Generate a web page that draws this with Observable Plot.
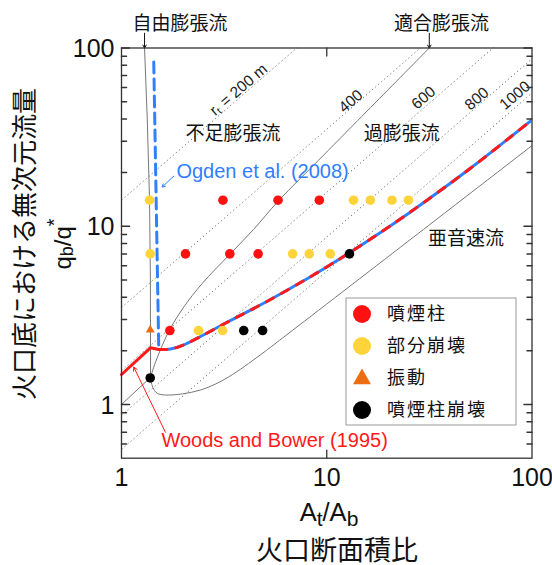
<!DOCTYPE html>
<html><head><meta charset="utf-8">
<script src="https://cdn.jsdelivr.net/npm/d3@7"></script>
<script src="https://cdn.jsdelivr.net/npm/@observablehq/plot@0.6"></script>
<style>
body{margin:0;background:#fff;}
#chart{width:552px;height:565px;}
</style></head><body><div id="chart"></div>
<script>
const FONT = "'Liberation Sans', Arial, 'Noto Sans CJK JP', sans-serif";

// ---- observations ----
const eruptionX = [3.12, 5.79, 9.2, 2.05, 3.37, 4.63, 1.72];
const eruptionY = [14, 14, 14, 7, 7, 7, 2.6];
const partialX = [1.37, 13.5, 16.3, 20.8, 25.0, 1.38, 6.82, 8.22, 10.4, 2.37, 3.11];
const partialY = [14, 14, 14, 14, 14, 7, 7, 7, 7, 2.6, 2.6];
const oscillationX = [1.38];
const oscillationY = [2.62];
const collapseX = [12.9, 3.94, 4.87, 1.38];
const collapseY = [7, 2.6, 2.6, 1.41];

// ---- regime boundary curves ----
const freeX = [1.295, 1.335, 1.37, 1.383, 1.385];
const freeY = [100, 40, 14, 5, 1.42];
const matchedLowX = [1, 1.385];
const matchedLowY = [1, 1.42];
const matchedX = [1.385, 1.464, 1.699, 2.01, 2.47, 3.37, 4.4, 5.79, 9.83, 31.6];
const matchedY = [1.42, 1.728, 2.57, 3.52, 4.77, 6.96, 9.6, 13.8, 25.6, 100];
const subsonicX = [1.384, 1.42, 1.492, 1.638, 1.983, 2.426, 2.871, 3.474, 4.157, 5.03, 6.086, 22.88, 100];
const subsonicY = [1.417, 1.25, 1.157, 1.131, 1.148, 1.206, 1.303, 1.473, 1.698, 1.995, 2.36, 7.636, 28.35];

// Woods and Bower (1995) / Ogden et al. (2008)
const woodsX = [1, 1.384, 1.519];
const woodsY = [1.474, 2.08, 2.035];
const modelX = [1.519, 1.733, 1.983, 2.373, 3.321, 5.03, 7.449, 9.86, 12.95, 18.28, 25.59, 50.15, 100];
const modelY = [2.035, 2.048, 2.148, 2.375, 2.921, 3.748, 4.833, 5.859, 7.12, 9.23, 12.03, 21.15, 39.53];
const ogdenX = [1.436, 1.519];
const ogdenY = [83.5, 2.035];

// r_t lines (value at A_t/A_b = 1 and at 100)
const rtLabels = ["rₜ = 200 m", "400", "600", "800", "1000"];
const rtStartY = [14, 3.5, 1.55, 0.87, 0.56];
const rtEndY = [1400, 350, 155, 87, 56];
const rtLabelX = [3.715, 13.1, 29.6, 53.8, 82.6];
const rtLabelY = [58.4, 50.3, 52.6, 51.9, 54.2];

// regime labels
const regimeText = ["不足膨張流", "過膨張流", "亜音速流"];
const regimeX = [3.49, 23.2, 47.7];
const regimeY = [32.9, 32.9, 8.45];
const topText = ["自由膨張流", "適合膨張流"];
const topX = [1.93, 36.2];
const topArrowX = [1.295, 31.6];

// ticks
const xTickLabels = [1, 10, 100];
const yTickLabels = [1, 10, 100];
const yMinor = [0.6, 0.7, 0.8, 0.9, 2, 3, 4, 5, 6, 7, 8, 9, 20, 30, 40, 50, 60, 70, 80, 90];

// legend
const legendNames = ["噴煙柱", "部分崩壊", "振動", "噴煙柱崩壊"];
const legendColors = ["#ff1111", "#ffd43a", "#ec6d14", "#000000"];
const legendShapes = ["circle", "circle", "triangle", "circle"];

const RED = "#ff1a1a", BLUE = "#2f80ff", GRAY = "#777";
const idx = a => a.map((_, i) => i);
const tickShape = {draw(ctx, l) { ctx.moveTo(0, 0); ctx.lineTo(0, -l); }};

const plot = Plot.plot({
  width: 552, height: 565,
  marginLeft: 121, marginRight: 20.5, marginTop: 47.5, marginBottom: 107.3,
  x: {type: "log", domain: [1, 100], axis: null},
  y: {type: "log", domain: [0.5, 100], axis: null},
  style: {fontFamily: FONT, background: "white", overflow: "visible"},
  marks: [
    // r_t dotted lines
    Plot.link(idx(rtStartY), {x1: () => 1, y1: i => rtStartY[i], x2: () => 100, y2: i => rtEndY[i],
      stroke: "#777", strokeWidth: 1, strokeDasharray: "1.3 2.7", clip: true}),
    Plot.text(idx(rtLabels), {x: i => rtLabelX[i], y: i => rtLabelY[i], text: i => rtLabels[i],
      rotate: -40.6, fontSize: 15.5, fill: "#222"}),
    // regime boundaries
    Plot.line(idx(freeX), {x: i => freeX[i], y: i => freeY[i], stroke: GRAY, strokeWidth: 1}),
    Plot.line(idx(matchedLowX), {x: i => matchedLowX[i], y: i => matchedLowY[i], stroke: GRAY, strokeWidth: 1}),
    Plot.line(idx(matchedX), {x: i => matchedX[i], y: i => matchedY[i], stroke: GRAY, strokeWidth: 1, curve: "catmull-rom", clip: true}),
    Plot.line(idx(subsonicX), {x: i => subsonicX[i], y: i => subsonicY[i], stroke: GRAY, strokeWidth: 1, curve: "catmull-rom", clip: true}),
    // models
    Plot.line(idx(ogdenX), {x: i => ogdenX[i], y: i => ogdenY[i], stroke: BLUE, strokeWidth: 3, strokeDasharray: "11 6"}),
    Plot.line(idx(modelX), {x: i => modelX[i], y: i => modelY[i], stroke: BLUE, strokeWidth: 3, curve: "catmull-rom", clip: true}),
    Plot.line(idx(modelX), {x: i => modelX[i], y: i => modelY[i], stroke: RED, strokeWidth: 3, curve: "catmull-rom", strokeDasharray: "8 9", clip: true}),
    Plot.line(idx(woodsX), {x: i => woodsX[i], y: i => woodsY[i], stroke: RED, strokeWidth: 3}),
    // annotations
    Plot.text(["Ogden et al. (2008)"], {x: () => 1.852, y: () => 20.2, text: d => d, textAnchor: "start", fontSize: 20, fill: BLUE}),
    Plot.arrow([0], {x1: () => 1.797, y1: () => 19.1, x2: () => 1.578, y2: () => 16.6, stroke: BLUE, strokeWidth: 1, headLength: 5}),
    Plot.text(["Woods and Bower (1995)"], {x: () => 1.565, y: () => 0.628, text: d => d, textAnchor: "start", fontSize: 20, fill: "#ff1a1a"}),
    Plot.arrow([0], {x1: () => 1.637, y1: () => 0.699, x2: () => 1.148, y2: () => 1.62, stroke: RED, strokeWidth: 1, headLength: 6}),
    Plot.text(idx(regimeText), {x: i => regimeX[i], y: i => regimeY[i], text: i => regimeText[i], fontSize: 19, fill: "#111", letterSpacing: 1}),
    Plot.text(idx(topText), {x: i => topX[i], y: () => 137, text: i => topText[i], fontSize: 19, fill: "#111", letterSpacing: 1}),
    Plot.arrow(idx(topArrowX), {x1: i => topArrowX[i], y1: () => 121, x2: i => topArrowX[i], y2: () => 100, stroke: "#111", strokeWidth: 1, headLength: 5}),
    // observations
    Plot.dot(idx(eruptionX), {x: i => eruptionX[i], y: i => eruptionY[i], r: 4.8, fill: legendColors[0]}),
    Plot.dot(idx(partialX), {x: i => partialX[i], y: i => partialY[i], r: 4.8, fill: legendColors[1]}),
    Plot.dot(idx(oscillationX), {x: i => oscillationX[i], y: i => oscillationY[i], r: 3.3, symbol: "triangle", fill: legendColors[2]}),
    Plot.dot(idx(collapseX), {x: i => collapseX[i], y: i => collapseY[i], r: 4.8, fill: legendColors[3]}),
    // ticks
    Plot.vector(yTickLabels, {x: () => 1, y: d => d, length: 8, rotate: 90, anchor: "start", shape: tickShape, stroke: "#333"}),
    Plot.vector(yMinor, {x: () => 1, y: d => d, length: 5, rotate: 90, anchor: "start", shape: tickShape, stroke: "#333"}),
    Plot.vector(yTickLabels, {x: () => 100, y: d => d, length: 8, rotate: -90, anchor: "start", shape: tickShape, stroke: "#333"}),
    Plot.vector(yMinor, {x: () => 100, y: d => d, length: 5, rotate: -90, anchor: "start", shape: tickShape, stroke: "#333"}),
    Plot.vector([10], {x: d => d, y: () => 0.5, length: 8, rotate: 0, anchor: "start", shape: tickShape, stroke: "#333", strokeWidth: 1.3}),
    Plot.vector([10], {x: d => d, y: () => 100, length: 8, rotate: 180, anchor: "start", shape: tickShape, stroke: "#333", strokeWidth: 1.3}),
    Plot.text(xTickLabels, {x: d => d, y: () => 0.5, dy: 20, text: d => String(d), fontSize: 25, fill: "#111"}),
    Plot.text(yTickLabels, {x: () => 1, y: d => d, dx: -7, dy: 1, textAnchor: "end", text: d => String(d), fontSize: 25, fill: "#111"}),
    Plot.frame({stroke: "#333", strokeWidth: 1.3})
  ]
});
document.getElementById("chart").appendChild(plot);

// axis titles and legend
const svg = d3.select(plot);
svg.append("text").attr("transform", "translate(25,244) rotate(-90)")
  .attr("text-anchor", "middle").attr("dominant-baseline", "central")
  .style("font-family", FONT).style("font-size", "26px").attr("fill", "#111")
  .text("火口底における無次元流量");
const q = svg.append("text").attr("transform", "translate(62,244) rotate(-90)")
  .attr("text-anchor", "middle").attr("dominant-baseline", "central")
  .style("font-family", FONT).style("font-size", "24px").attr("fill", "#111");
q.append("tspan").text("q");
q.append("tspan").attr("dy", 5).style("font-size", "18px").text("b");
q.append("tspan").attr("dy", -5).text("/q");
q.append("tspan").attr("dy", -8).style("font-size", "20px").text("*");

const xt = svg.append("text").attr("x", 329).attr("y", 521).attr("text-anchor", "middle")
  .style("font-family", FONT).style("font-size", "25.5px").attr("fill", "#111");
xt.append("tspan").text("A");
xt.append("tspan").attr("dy", 5).style("font-size", "21px").text("t");
xt.append("tspan").attr("dy", -5).text("/A");
xt.append("tspan").attr("dy", 5).style("font-size", "21px").text("b");
svg.append("text").attr("x", 337).attr("y", 551).attr("text-anchor", "middle").attr("dominant-baseline", "central")
  .style("font-family", FONT).style("font-size", "27px").attr("fill", "#111").text("火口断面積比");

const lg = svg.append("g");
lg.append("rect").attr("x", 346).attr("y", 298).attr("width", 170).attr("height", 127)
  .attr("fill", "white").attr("stroke", "#999").attr("stroke-width", 1);
legendNames.forEach((name, i) => {
  const cy = 314 + i * 32;
  if (legendShapes[i] === "triangle") {
    lg.append("path").attr("d", d3.symbol(d3.symbolTriangle, 140)()).attr("transform", `translate(362,${cy + 1})`).attr("fill", legendColors[i]);
  } else {
    lg.append("circle").attr("cx", 362).attr("cy", cy).attr("r", 9).attr("fill", legendColors[i]);
  }
  lg.append("text").attr("x", 387).attr("y", cy).attr("text-anchor", "start").attr("dominant-baseline", "central")
    .style("font-family", FONT).style("font-size", "18px").style("letter-spacing", "2px").attr("fill", "#111").text(name);
});
</script></body></html>
